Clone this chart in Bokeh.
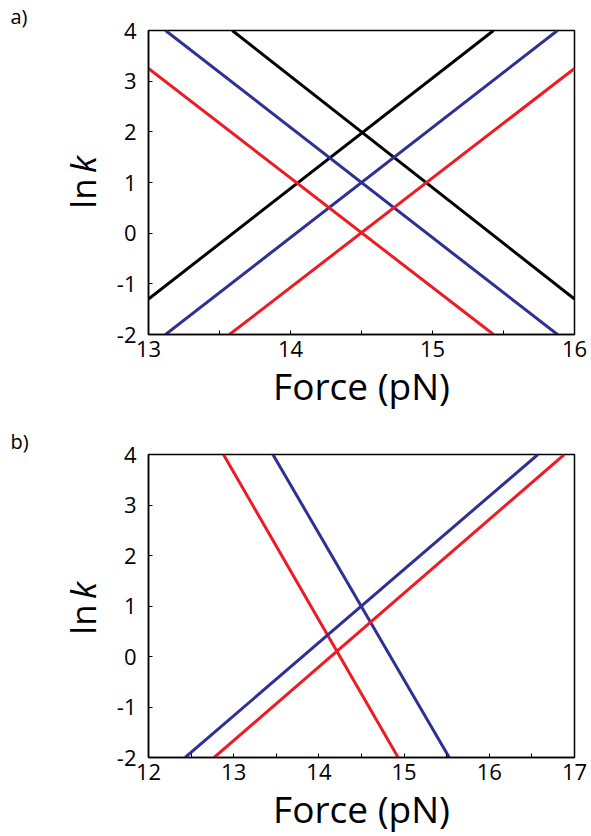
import math
from bokeh.plotting import figure
from bokeh.layouts import column, row
from bokeh.models import FixedTicker, Range1d
from bokeh.core.properties import value
from bokeh.embed import file_html
from bokeh.resources import INLINE

# ---------------- data ----------------
# panel a: x range 13-16, y range -2..4
a_xticks = [13, 14, 15, 16]
a_xminor = [13.5, 14.5, 15.5]
a_black_desc_x = [13.59, 16.0]
a_black_desc_y = [4.0, -1.30]
a_black_asc_x = [13.0, 15.43]
a_black_asc_y = [-1.30, 4.0]
a_blue_desc_x = [13.12, 15.88]
a_blue_desc_y = [4.0, -2.0]
a_blue_asc_x = [13.12, 15.88]
a_blue_asc_y = [-2.0, 4.0]
a_red_desc_x = [13.0, 15.43]
a_red_desc_y = [3.25, -2.0]
a_red_asc_x = [13.57, 16.0]
a_red_asc_y = [-2.0, 3.25]

# panel b: x range 12-17
b_xticks = [12, 13, 14, 15, 16, 17]
b_xminor = [12.5, 13.5, 14.5, 15.5, 16.5]
b_red_desc_x = [12.88, 14.93]
b_red_desc_y = [4.0, -2.0]
b_blue_desc_x = [13.46, 15.53]
b_blue_desc_y = [4.0, -2.0]
b_blue_asc_x = [12.43, 16.57]
b_blue_asc_y = [-2.0, 4.0]
b_red_asc_x = [12.77, 16.88]
b_red_asc_y = [-2.0, 4.0]

yticks = [-2, -1, 0, 1, 2, 3, 4]
ytick_text = {-2: "-2", -1: "-1"}
panel_letters = ["a)", "b)"]
ylabel_main = "ln"
ylabel_var = "k"

RED = "#ed1c24"
BLUE = "#2e3192"
BLACK = "#000000"
FONT = "Open Sans"
LW = 3
LEFT_W = 100
H = 836


def make_panel(xr, xticks, xminor, top, bottom, lines):
    p = figure(width=591 - LEFT_W, height=418, output_backend="svg", toolbar_location=None,
               x_range=Range1d(*xr), y_range=Range1d(-2, 4),
               min_border_left=148 - LEFT_W, min_border_right=17,
               min_border_top=top, min_border_bottom=bottom)
    p.grid.visible = False
    p.outline_line_color = "black"
    p.outline_line_width = 1.5
    p.background_fill_color = "white"
    p.border_fill_color = "white"
    for xs, ys, c in lines:
        p.line(xs, ys, line_color=c, line_width=LW)

    xa = p.xaxis[0]
    xa.ticker = FixedTicker(ticks=xticks, minor_ticks=xminor)
    xa.major_tick_in = 4
    xa.major_tick_out = 0
    xa.minor_tick_in = 4
    xa.minor_tick_out = 0
    xa.axis_line_width = 1.5
    xa.major_label_text_font = FONT
    xa.major_label_text_font_size = "22px"
    xa.major_label_text_color = "black"
    xa.major_label_standoff = 6
    xa.axis_label = "Force (pN)"
    xa.axis_label_text_font = FONT
    xa.axis_label_text_font_size = "37px"
    xa.axis_label_text_font_style = "normal"
    xa.axis_label_text_color = "black"
    xa.axis_label_standoff = 0

    ya = p.yaxis[0]
    ya.ticker = FixedTicker(ticks=yticks, minor_ticks=[])
    ya.major_label_overrides = ytick_text
    ya.major_tick_in = 4
    ya.major_tick_out = 0
    ya.minor_tick_in = 0
    ya.minor_tick_out = 0
    ya.axis_line_width = 1.5
    ya.major_label_text_font = FONT
    ya.major_label_text_font_size = "22px"
    ya.major_label_text_color = "black"
    ya.major_label_standoff = 12
    return p


pa = make_panel((13, 16), a_xticks, a_xminor, 30, 84, [
    (a_black_desc_x, a_black_desc_y, BLACK),
    (a_black_asc_x, a_black_asc_y, BLACK),
    (a_blue_desc_x, a_blue_desc_y, BLUE),
    (a_blue_asc_x, a_blue_asc_y, BLUE),
    (a_red_desc_x, a_red_desc_y, RED),
    (a_red_asc_x, a_red_asc_y, RED),
])

pb = make_panel((12, 17), b_xticks, b_xminor, 36, 78, [
    (b_red_desc_x, b_red_desc_y, RED),
    (b_blue_desc_x, b_blue_desc_y, BLUE),
    (b_blue_asc_x, b_blue_asc_y, BLUE),
    (b_red_asc_x, b_red_asc_y, RED),
])

# left strip holding the panel letters and the y-axis titles (pixel coordinates)
lab = figure(width=LEFT_W, height=H, output_backend="svg", toolbar_location=None,
             x_range=Range1d(0, LEFT_W), y_range=Range1d(0, H),
             min_border=0, min_border_left=0, min_border_right=0,
             min_border_top=0, min_border_bottom=0)
lab.axis.visible = False
lab.grid.visible = False
lab.outline_line_color = None
lab.background_fill_color = "white"
lab.border_fill_color = "white"

lab.text(x=[10, 10], y=[H - 2, H - 427], text=panel_letters, text_font=value(FONT),
         text_font_size="20px", text_align="left", text_baseline="top", text_color="black")
lab.text(x=[82, 82], y=[H - 193, H - 619], text=[ylabel_main, ylabel_main], angle=math.pi / 2,
         text_font=value(FONT), text_font_size="35px", text_align="center",
         text_baseline="middle", text_color="black")
lab.text(x=[82, 82], y=[H - 164, H - 590], text=[ylabel_var, ylabel_var], angle=math.pi / 2,
         text_font=value(FONT), text_font_size="35px", text_font_style="italic",
         text_align="center", text_baseline="middle", text_color="black")

layout = row(lab, column(pa, pb, spacing=0), spacing=0)
open("out.html", "w").write(file_html(layout, INLINE))
